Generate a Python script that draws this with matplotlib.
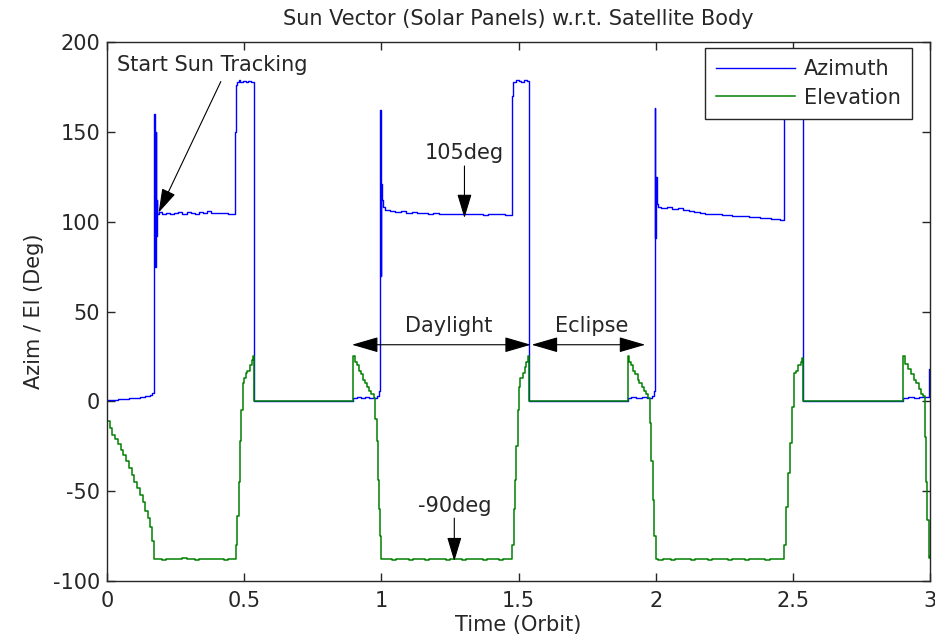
import matplotlib
matplotlib.use("Agg")
import matplotlib.pyplot as plt

# azimuth samples (orbit, deg)
az_time = [0.000, 0.020, 0.040, 0.060, 0.080, 0.100, 0.120, 0.140, 0.155, 0.165, 0.171,
           0.173, 0.175, 0.177, 0.179, 0.181, 0.183,
           0.190, 0.200, 0.215, 0.230, 0.245, 0.260, 0.275, 0.290, 0.305, 0.320, 0.335,
           0.350, 0.365, 0.380, 0.395, 0.410, 0.425, 0.440, 0.455,
           0.468, 0.470, 0.475, 0.480, 0.485, 0.495, 0.505, 0.515, 0.525, 0.536,
           0.897, 0.910, 0.925, 0.940, 0.955, 0.970, 0.985, 0.992,
           0.995, 0.997, 0.999, 1.002, 1.006, 1.012,
           1.03, 1.05, 1.07, 1.09, 1.11, 1.13, 1.15, 1.17, 1.19, 1.21, 1.23, 1.25,
           1.27, 1.29, 1.31, 1.33, 1.35, 1.37, 1.39, 1.41, 1.43, 1.45, 1.465,
           1.478, 1.481, 1.490, 1.500, 1.510, 1.520, 1.530, 1.537,
           1.898, 1.910, 1.930, 1.950, 1.970, 1.985, 1.993,
           1.997, 1.999, 2.001, 2.004, 2.008,
           2.02, 2.04, 2.06, 2.08, 2.10, 2.12, 2.14, 2.16, 2.18, 2.20, 2.22, 2.24,
           2.26, 2.28, 2.30, 2.32, 2.34, 2.36, 2.38, 2.40, 2.42, 2.44, 2.455,
           2.467, 2.480, 2.500, 2.520, 2.538,
           2.902, 2.920, 2.940, 2.960, 2.980, 2.996, 3.000]
az_deg = [1.0, 1.0, 1.5, 1.5, 2.0, 2.0, 2.5, 3.0, 3.5, 4.5, 6.0,
          160, 75, 150, 92, 112, 104,
          105.5, 104.5, 105, 104, 105, 105.5, 104.5, 105.5, 105, 104.5, 105.5,
          105, 106, 105, 105, 105, 105, 104.5, 104.5,
          150, 176, 178, 179, 177.5, 178.5, 178, 178.5, 177.5, 0,
          2.0, 2.5, 2.0, 2.5, 2.0, 2.0, 3.0, 6.0,
          162, 70, 121, 112, 108, 106.5,
          106, 105.5, 106, 105, 105.5, 105, 105, 104.5, 105, 104.5, 104, 104.5,
          104, 104, 104.5, 104, 104.5, 103.5, 104, 104, 104.5, 103.5, 103.5,
          170, 178, 179, 178.5, 178, 179, 178.5, 0,
          2.0, 2.5, 2.0, 2.5, 2.0, 3.0, 6.0,
          163, 91, 125, 110, 108,
          107.5, 108, 107, 107.5, 106.5, 106, 105.5, 105, 104.5, 104, 104, 103.5,
          103.5, 103, 103, 103, 102.5, 102.5, 102, 102, 101.5, 101.5, 101,
          178, 179, 178, 178.5, 0,
          2.0, 2.5, 2.0, 2.5, 2.5, 18, 18]

# elevation samples (orbit, deg)
el_time = [0.000, 0.010, 0.020, 0.030, 0.040, 0.050, 0.060, 0.070, 0.080, 0.090, 0.100,
           0.110, 0.120, 0.130, 0.140, 0.150, 0.157, 0.165, 0.172,
           0.180, 0.190, 0.200, 0.215, 0.230, 0.245, 0.260, 0.275, 0.290, 0.305, 0.320,
           0.335, 0.350, 0.365, 0.380, 0.395, 0.410, 0.425, 0.440, 0.455, 0.465,
           0.471, 0.475, 0.480, 0.485, 0.490, 0.495, 0.500, 0.505, 0.512, 0.520, 0.528, 0.533, 0.536,
           0.897, 0.903, 0.910, 0.917, 0.925, 0.933, 0.940, 0.948, 0.956, 0.964, 0.972,
           0.978, 0.983, 0.988, 0.992, 0.996, 0.999,
           1.010, 1.025, 1.040, 1.055, 1.070, 1.085, 1.100, 1.115, 1.130, 1.145, 1.160,
           1.175, 1.190, 1.205, 1.220, 1.235, 1.250, 1.265, 1.280, 1.295, 1.310, 1.325,
           1.340, 1.355, 1.370, 1.385, 1.400, 1.415, 1.430, 1.445, 1.460, 1.470,
           1.478, 1.482, 1.487, 1.492, 1.497, 1.502, 1.507, 1.515, 1.522, 1.529, 1.534, 1.537,
           1.898, 1.904, 1.911, 1.918, 1.926, 1.934, 1.941, 1.949, 1.957, 1.965, 1.972,
           1.978, 1.983, 1.990, 1.995, 2.000,
           2.010, 2.025, 2.040, 2.055, 2.070, 2.085, 2.100, 2.115, 2.130, 2.145, 2.160,
           2.175, 2.190, 2.205, 2.220, 2.235, 2.250, 2.265, 2.280, 2.295, 2.310, 2.325,
           2.340, 2.355, 2.370, 2.385, 2.400, 2.415, 2.430, 2.445, 2.458,
           2.467, 2.475, 2.483, 2.490, 2.497, 2.504, 2.512, 2.520, 2.530, 2.535, 2.538,
           2.902, 2.910, 2.920, 2.930, 2.940, 2.950, 2.960, 2.968, 2.974,
           2.980, 2.986, 2.990, 2.995, 3.000]
el_deg = [-11, -15, -19, -21, -24, -27, -30, -33, -37, -41, -45,
          -48, -52, -56, -61, -65, -70, -78, -88,
          -87.5, -88, -88.5, -87.5, -88, -87.5, -88, -87, -88, -87.5, -88.5,
          -87.5, -88, -87.5, -88, -87.5, -88, -88.5, -88, -87.5, -88,
          -80, -64, -45, -22, -5, 10, 13, 16, 17, 20, 23, 25, 0,
          25, 22, 20, 17, 15, 12, 10, 8, 6, 4, 2,
          -10, -22, -44, -60, -75, -88,
          -87.5, -88, -88.5, -87.5, -88, -87.5, -88.5, -88, -87.5, -88, -88.5,
          -87.5, -88, -88, -87.5, -88.5, -88, -87.5, -88, -88.5, -87.5, -88,
          -88, -87.5, -88.5, -88, -87.5, -88, -88.5, -87.5, -88, -88,
          -80, -60, -44, -25, -5, 8, 13, 16, 19, 22, 25, 0,
          25, 22, 20, 17, 15, 12, 10, 8, 6, 4, 2,
          -12, -33, -55, -75, -88,
          -88.5, -87.5, -88, -88.5, -87.5, -88, -88, -87.5, -88.5, -88, -87.5,
          -88, -88.5, -87.5, -88, -88, -87.5, -88.5, -88, -87.5, -88, -88.5,
          -87.5, -88, -88, -87.5, -88.5, -88, -87.5, -88, -88,
          -80, -59, -40, -23, -3, 16, 17, 20, 22, 24, 0,
          25, 21, 18, 15, 12, 10, 7, 4, 3,
          -20, -45, -66, -87, -86]

x_ticks = [0, 0.5, 1, 1.5, 2, 2.5, 3]
y_ticks = [-100, -50, 0, 50, 100, 150, 200]

plt.rcParams['font.family'] = 'DejaVu Sans'
plt.rcParams['font.size'] = 15
plt.rcParams['axes.unicode_minus'] = False  # plain hyphen like the original

ink = '#262626'

fig = plt.figure(figsize=(9.35, 6.39), dpi=100)
ax = fig.add_axes([107 / 935, 1 - 581 / 639, 823 / 935, 539 / 639])

ax.plot(az_time, az_deg, color=(0, 0, 1), lw=1.0, drawstyle='steps-post', label='Azimuth')
ax.plot(el_time, el_deg, color=(0, 0.5, 0), lw=1.1, drawstyle='steps-post', label='Elevation')

ax.set_xlim(0, 3)
ax.set_ylim(-100, 200)
ax.set_xticks(x_ticks)
ax.set_xticklabels(['0', '0.5', '1', '1.5', '2', '2.5', '3'])
ax.set_yticks(y_ticks)
ax.tick_params(direction='in', length=6, width=1, top=True, right=True, colors=ink)
ax.tick_params(axis='x', pad=7)
ax.tick_params(axis='y', pad=5)
for s in ax.spines.values():
    s.set_linewidth(1.0)
    s.set_color(ink)

ax.set_title('Sun Vector (Solar Panels) w.r.t. Satellite Body', fontsize=15, pad=12, color=ink)
ax.set_xlabel('Time (Orbit)', color=ink, labelpad=3)
ax.set_ylabel('Azim / El (Deg)', color=ink, labelpad=6)

leg = ax.legend(loc='upper right', bbox_to_anchor=(0.978, 0.989), handlelength=3.8,
                fancybox=False, edgecolor=ink, framealpha=1, borderaxespad=0,
                handletextpad=0.4, labelspacing=0.4, borderpad=0.55, labelcolor=ink)
leg.get_frame().set_linewidth(1.0)

one_head = dict(arrowstyle='-|>,head_length=1.0,head_width=0.3', color='black', lw=0.8,
                shrinkA=0, shrinkB=0)
two_head = dict(arrowstyle='<|-|>,head_length=1.1,head_width=0.32', color='black', lw=0.8,
                shrinkA=0, shrinkB=0)

ax.text(0.036, 187, 'Start Sun Tracking', ha='left', va='center', color=ink)
ax.annotate('', xy=(0.188, 105), xytext=(0.415, 178), arrowprops=one_head)

ax.text(1.303, 138, '105deg', ha='center', va='center', color=ink)
ax.annotate('', xy=(1.303, 102), xytext=(1.303, 131), arrowprops=one_head)

ax.text(1.266, -58, '-90deg', ha='center', va='center', color=ink)
ax.annotate('', xy=(1.266, -89), xytext=(1.266, -65), arrowprops=one_head)

ax.text(1.245, 42, 'Daylight', ha='center', va='center', color=ink)
ax.annotate('', xy=(0.893, 31.5), xytext=(1.545, 31.5), arrowprops=two_head)

ax.text(1.766, 42, 'Eclipse', ha='center', va='center', color=ink)
ax.annotate('', xy=(1.548, 31.5), xytext=(1.962, 31.5), arrowprops=two_head)

fig.savefig('out.png', dpi=100)
